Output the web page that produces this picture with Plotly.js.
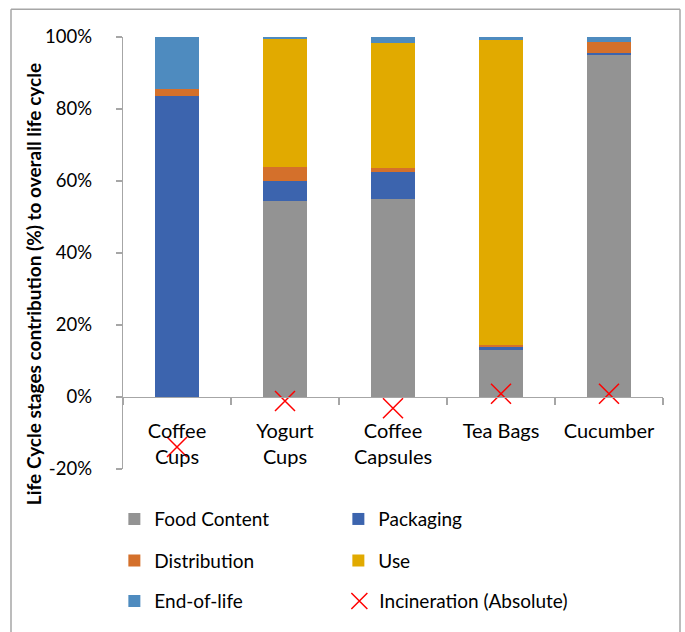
<!DOCTYPE html>
<html>
<head>
<meta charset="utf-8">
<script src="https://cdn.plot.ly/plotly-3.0.1.min.js"></script>
<style>
html,body{margin:0;padding:0;background:#fff;}
#chart{width:685px;height:632px;}
</style>
</head>
<body>
<div id="chart"></div>
<script>
const categories = ["Coffee<br>Cups", "Yogurt<br>Cups", "Coffee<br>Capsules", "Tea Bags", "Cucumber"];
const foodContent = [0, 54.4, 54.9, 13.0, 94.9];
const packaging = [83.6, 5.6, 7.5, 0.9, 0.7];
const distribution = [2.0, 3.8, 1.1, 0.6, 3.1];
const useStage = [0, 35.7, 34.8, 84.8, 0];
const endOfLife = [14.4, 0.5, 1.8, 0.7, 1.3];
const incineration = [-13.9, -1.1, -3.1, 0.9, 0.9];
const yTickVals = [-20, 0, 20, 40, 60, 80, 100];
const yTickText = ["-20%", "0%", "20%", "40%", "60%", "80%", "100%"];

const FONT = "Lato, 'Open Sans', sans-serif";
function barTrace(name, y, color, legend) {
  return {type: "bar", name: name, x: categories, y: y, legend: legend,
    marker: {color: color, line: {width: 0}}, hoverinfo: "y+name"};
}
const traces = [
  barTrace("Food Content", foodContent, "#939393", "legend"),
  barTrace("Packaging", packaging, "#3c64ae", "legend"),
  barTrace("Distribution", distribution, "#d4702b", "legend2"),
  barTrace("Use", useStage, "#e1aa00", "legend2"),
  barTrace("End-of-life", endOfLife, "#4e8bbf", "legend3"),
  {type: "scatter", mode: "markers", name: "Incineration (Absolute)", x: categories, y: incineration,
   legend: "legend4",
   marker: {symbol: "x-thin-open", size: 20, color: "#ff0000", line: {color: "#ff0000", width: 1.5}}}
];

const col1X = -0.016;
const col2X = col1X + 225 / 540;
const legendBase = {orientation: "h", xanchor: "left", yanchor: "top", x: col1X,
  entrywidth: 179, font: {family: FONT, size: 19, color: "#000"}, bgcolor: "rgba(0,0,0,0)",
  traceorder: "normal"};

const frameColor = "#a6a6a6";
const layout = {
  width: 685, height: 632,
  margin: {l: 123, r: 22, t: 37, b: 158},
  paper_bgcolor: "#fff", plot_bgcolor: "#fff",
  font: {family: FONT, color: "#000"},
  barmode: "stack",
  bargap: 0.6,
  showlegend: true,
  legend: Object.assign({}, legendBase, {y: -0.072}),
  legend2: Object.assign({}, legendBase, {y: -0.168}),
  legend3: Object.assign({}, legendBase, {y: -0.262}),
  legend4: Object.assign({}, legendBase, {y: -0.262, x: col2X, entrywidth: 230}),
  xaxis: {
    type: "category", range: [-0.5, 4.5], anchor: "free", position: 20/120,
    showline: true, linecolor: "#a6a6a6", linewidth: 1.3,
    ticks: "outside", tickson: "boundaries", ticklen: 7, tickcolor: "#a6a6a6", tickwidth: 1.3,
    showgrid: false, zeroline: false, ticklabelstandoff: 16,
    tickfont: {family: FONT, size: 20, color: "#000"}
  },
  yaxis: {
    range: [-20, 100], tickvals: yTickVals, ticktext: yTickText,
    showline: true, linecolor: "#a6a6a6", linewidth: 1.3,
    ticks: "outside", ticklen: 6, tickcolor: "#a6a6a6", tickwidth: 1.3,
    showgrid: false, zeroline: false, ticklabelstandoff: 20,
    tickfont: {family: FONT, size: 18.5, color: "#000"}
  },
  annotations: [{
    text: "<b>Life Cycle stages contribution (%) to overall life cycle</b>",
    textangle: -90, xref: "paper", yref: "paper", x: 0, y: (474 - 287) / 437,
    xanchor: "center", yanchor: "middle", xshift: -90, showarrow: false,
    font: {family: FONT, size: 19, color: "#000"}
  }],
  shapes: [
    {type: "line", xref: "paper", yref: "paper", x0: -112/540, x1: -112/540, y0: -0.4, y1: 465/437, line: {color: frameColor, width: 1.5}},
    {type: "line", xref: "paper", yref: "paper", x0: -112/540, x1: 557/540, y0: 465/437, y1: 465/437, line: {color: frameColor, width: 1.5}},
    {type: "line", xref: "paper", yref: "paper", x0: 557/540, x1: 557/540, y0: -0.4, y1: 465/437, line: {color: frameColor, width: 1.5}}
  ]
};
Plotly.newPlot("chart", traces, layout, {displayModeBar: false, staticPlot: true});
</script>
</body>
</html>
